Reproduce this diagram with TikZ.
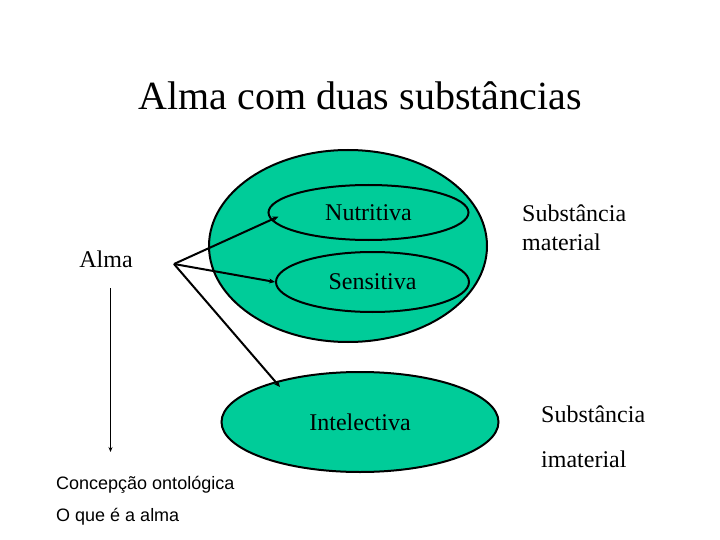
\documentclass[tikz,border=0pt]{standalone}
\usepackage{fontspec}
\setmainfont{Liberation Serif}
\newfontfamily\arialfont{Liberation Sans}
\usetikzlibrary{arrows.meta,calc,shapes.geometric}
\definecolor{INK}{HTML}{000000}
\definecolor{TEAL}{HTML}{00CC99}

\begin{document}
\begin{tikzpicture}[x=1pt,y=-1pt]
\tikzset{soul/.style={ellipse,draw=INK,line width=2pt,fill=TEAL,inner sep=0pt},
 part/.style={ellipse,draw=INK,line width=2pt,inner sep=0pt,font=\fontsize{24}{28}\selectfont},
 lbl/.style={inner sep=0pt,font=\fontsize{24}{28}\selectfont},
 note/.style={inner sep=0pt,anchor=base west,font=\arialfont\fontsize{18}{22}\selectfont},
 ptr/.style={-{Stealth[length=6pt,width=5pt]},line width=2pt,INK}}
\useasboundingbox (0,0) rectangle (720,540);
\node[lbl,anchor=base,font=\fontsize{40}{48}\selectfont] (title) at (360,110) {Alma com duas substâncias};
% corpo e partes
\node[soul,minimum width=278pt,minimum height=192pt] (body) at (348,246) {};
\node[part,minimum width=200pt,minimum height=55pt] (nutri) at (368.5,212.5) {Nutritiva};
\node[part,minimum width=193pt,minimum height=60pt] (sens) at (372.5,282) {Sensitiva};
\node[soul,font=\fontsize{24}{28}\selectfont,minimum width=277pt,minimum height=100pt] (intel) at (360,422) {Intelectiva};
\node[lbl,anchor=base] (alma) at (106,267) {Alma};
\node[lbl,anchor=base west] (mat1) at (522,222) {Substância};
\node[lbl,anchor=base west] (mat2) at (522,251) {material};
\node[lbl,anchor=base west] (imat1) at (541,422) {Substância};
\node[lbl,anchor=base west] (imat2) at (541,467) {imaterial};
\node[note] (onto) at (56,489) {Concepção ontológica};
\node[note] (que) at (56,521) {O que é a alma};
% setas
\coordinate (apex) at (174,264);
\draw[ptr] (apex) -- ($(nutri.west)+(11,4)$);
\draw[ptr] (apex) -- (sens.west);
\draw[ptr] (apex) -- ($(intel.center)+(-80,-35)$);
\coordinate (top) at (110.5,288);
\coordinate (bot) at (110.5,452);
\draw[-{Stealth[length=5pt,width=4pt]},line width=0.9pt,INK] (top) -- (bot);
\end{tikzpicture}
\end{document}
